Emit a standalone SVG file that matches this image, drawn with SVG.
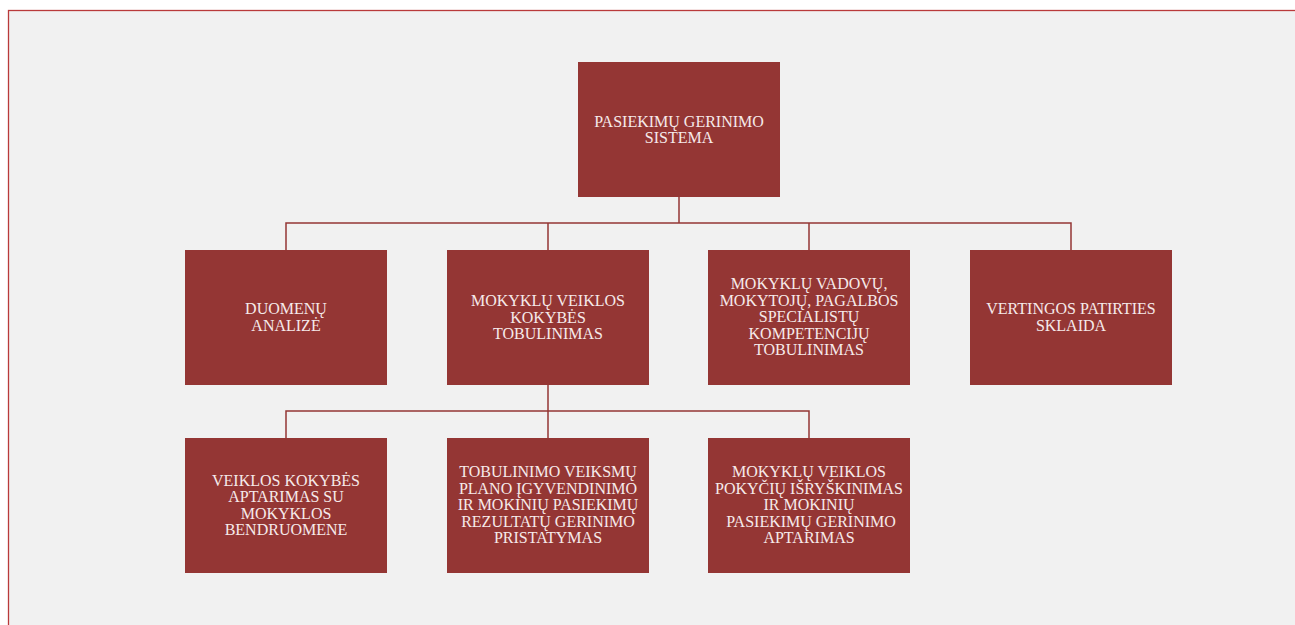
<svg xmlns="http://www.w3.org/2000/svg" width="1295" height="625" viewBox="0 0 1295 625">
<style>
.box{fill:#943634}
.t{font-family:"Liberation Serif","Times New Roman",serif;font-size:16px;fill:#f6eaea;text-anchor:middle}
.c{stroke:#943634;stroke-width:1.5;fill:none}
</style>
<rect x="0" y="0" width="1295" height="625" fill="#ffffff"/>
<rect x="8.5" y="10.5" width="1300" height="630" fill="#f1f1f1" stroke="#b93a3b" stroke-width="1.3"/>
<g id="connectors">
<path class="c" d="M679 197V223M286 250V223H1071V250M548 223V250M809 223V250"/>
<path class="c" d="M548 385V411M286 438V411H809V438M548 411V438"/>
</g>
<g id="n0"><rect class="box" x="578" y="62" width="202" height="135"/>
<text class="t"><tspan x="679" y="126.5">PASIEKIMŲ GERINIMO</tspan><tspan x="679" y="143">SISTEMA</tspan></text></g>
<g id="n1"><rect class="box" x="185" y="250" width="202" height="135"/>
<text class="t"><tspan x="286" y="314">DUOMENŲ</tspan><tspan x="286" y="330.5">ANALIZĖ</tspan></text></g>
<g id="n2"><rect class="box" x="447" y="250" width="202" height="135"/>
<text class="t"><tspan x="548" y="306">MOKYKLŲ VEIKLOS</tspan><tspan x="548" y="322.5">KOKYBĖS</tspan><tspan x="548" y="339">TOBULINIMAS</tspan></text></g>
<g id="n3"><rect class="box" x="708" y="250" width="202" height="135"/>
<text class="t"><tspan x="809" y="289">MOKYKLŲ VADOVŲ,</tspan><tspan x="809" y="305.5">MOKYTOJŲ, PAGALBOS</tspan><tspan x="809" y="322">SPECIALISTŲ</tspan><tspan x="809" y="338.5">KOMPETENCIJŲ</tspan><tspan x="809" y="355">TOBULINIMAS</tspan></text></g>
<g id="n4"><rect class="box" x="970" y="250" width="202" height="135"/>
<text class="t"><tspan x="1071" y="314">VERTINGOS PATIRTIES</tspan><tspan x="1071" y="330.5">SKLAIDA</tspan></text></g>
<g id="n5"><rect class="box" x="185" y="438" width="202" height="135"/>
<text class="t"><tspan x="286" y="485.5">VEIKLOS KOKYBĖS</tspan><tspan x="286" y="502">APTARIMAS SU</tspan><tspan x="286" y="518.5">MOKYKLOS</tspan><tspan x="286" y="535">BENDRUOMENE</tspan></text></g>
<g id="n6"><rect class="box" x="447" y="438" width="202" height="135"/>
<text class="t"><tspan x="548" y="477">TOBULINIMO VEIKSMŲ</tspan><tspan x="548" y="493.5">PLANO ĮGYVENDINIMO</tspan><tspan x="548" y="510">IR MOKINIŲ PASIEKIMŲ</tspan><tspan x="548" y="526.5">REZULTATŲ GERINIMO</tspan><tspan x="548" y="543">PRISTATYMAS</tspan></text></g>
<g id="n7"><rect class="box" x="708" y="438" width="202" height="135"/>
<text class="t"><tspan x="809" y="477">MOKYKLŲ VEIKLOS</tspan><tspan x="809" y="493.5">POKYČIŲ IŠRYŠKINIMAS</tspan><tspan x="809" y="510">IR MOKINIŲ</tspan><tspan x="811" y="526.5">PASIEKIMŲ GERINIMO</tspan><tspan x="809" y="543">APTARIMAS</tspan></text></g>
</svg>
